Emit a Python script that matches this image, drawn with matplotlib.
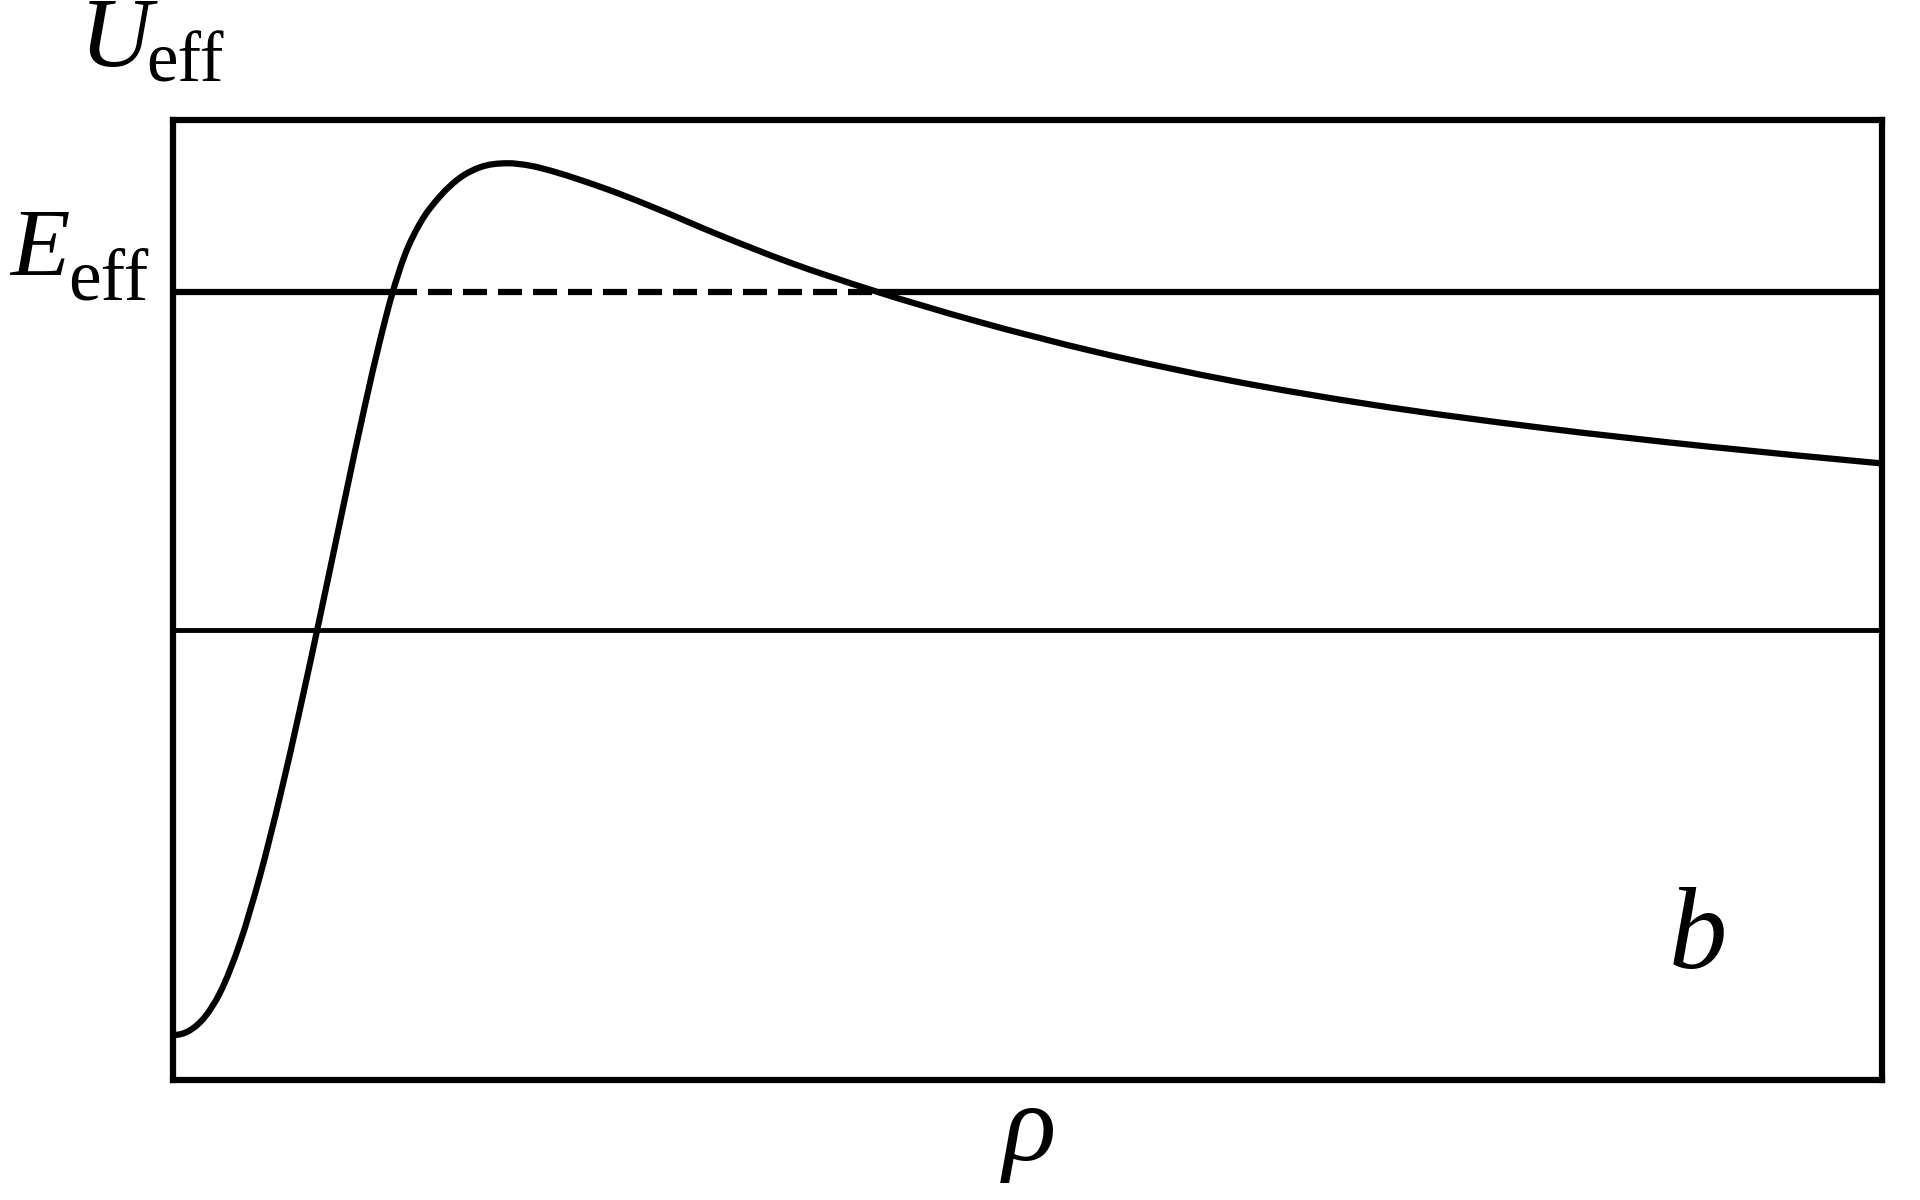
import numpy as np
import matplotlib
matplotlib.use("Agg")
import matplotlib.pyplot as plt
from matplotlib.path import Path
from matplotlib.patches import PathPatch

# ---- data (E_eff normalised to 1, rho axis 0..10) ----
rho = [0.0, 0.099, 0.187, 0.275, 0.392, 0.509, 0.626, 0.743, 0.860, 1.006,
       1.123, 1.211, 1.281, 1.357, 1.445, 1.562, 1.679, 1.796, 1.954, 2.089,
       2.224, 2.381, 2.6, 2.8, 3.2, 3.6, 4.1, 4.7, 5.4, 6.2, 7.0,
       8.0, 9.0, 10.0]
u_eff = [-1.198, -1.184, -1.144, -1.073, -0.925, -0.727, -0.493, -0.234, 0.039, 0.389,
         0.664, 0.856, 0.992, 1.110, 1.203, 1.283, 1.338, 1.369, 1.381, 1.374,
         1.357, 1.332, 1.293, 1.253, 1.168, 1.089, 1.004, 0.914, 0.823, 0.737, 0.668,
         0.599, 0.542, 0.493]
E_eff = 1.0
zero_level = 0.0
x_range = [0.0, 10.0]
y_range = [-1.331, 1.509]

rho_a = np.array(rho)
u_a = np.array(u_eff)
ipk = int(np.argmax(u_a))
# turning points where the curve meets E_eff (rising and falling branches)
rho_in = float(np.interp(E_eff, u_a[:ipk + 1], rho_a[:ipk + 1]))
rho_out = float(np.interp(-E_eff, -u_a[ipk:], rho_a[ipk:]))


def smooth_path(x, y):
    """Cubic Hermite (Bezier) path passing through every read point."""
    h = np.diff(x)
    d = np.diff(y) / h
    m = np.empty_like(y)
    m[-1] = d[-1]
    m[1:-1] = (h[:-1] * d[1:] + h[1:] * d[:-1]) / (h[:-1] + h[1:])
    m[0] = 0.0  # curve leaves the wall horizontally
    verts = [(x[0], y[0])]
    codes = [Path.MOVETO]
    for i in range(len(x) - 1):
        verts += [(x[i] + h[i] / 3, y[i] + m[i] * h[i] / 3),
                  (x[i + 1] - h[i] / 3, y[i + 1] - m[i + 1] * h[i] / 3),
                  (x[i + 1], y[i + 1])]
        codes += [Path.CURVE4] * 3
    return Path(verts, codes)


fig = plt.figure(figsize=(19.2, 12), dpi=100)
ax = fig.add_axes([0.0901, 0.1, 0.8901, 0.8])
ax.set_xlim(*x_range)
ax.set_ylim(*y_range)

lw = 4.5
# zero line
ax.plot(x_range, [zero_level, zero_level], color="black", lw=3.5, solid_capstyle="butt")
# E_eff line: solid outside, dashed in the forbidden region
ax.plot([x_range[0], rho_in], [E_eff, E_eff], color="black", lw=lw, solid_capstyle="butt")
ax.plot([rho_out, x_range[1]], [E_eff, E_eff], color="black", lw=lw, solid_capstyle="butt")
ax.plot([rho_in, rho_out], [E_eff, E_eff], color="black", lw=lw,
        dashes=(17.3 / lw, 7.9 / lw), dash_capstyle="butt")
# potential curve
ax.add_patch(PathPatch(smooth_path(rho_a, u_a), facecolor="none", edgecolor="black",
                       lw=lw, joinstyle="round", capstyle="round"))

ax.set_xticks([])
ax.set_yticks([])
for s in ax.spines.values():
    s.set_linewidth(lw)
    s.set_color("black")

serif = "Liberation Serif"
W, H = 1920.0, 1200.0

def ftext(px, py, s, size, style="normal", ha="left"):
    fig.text(px / W, 1 - py / H, s, fontsize=size, fontfamily=serif,
             style=style, ha=ha, va="baseline", color="black")

# U_eff
ftext(80, 66, "U", 72, "italic")
ftext(146, 82, "eff", 51)
# E_eff
ftext(10, 276, "E", 70, "italic")
ftext(68, 300, "eff", 53)
# b label
ftext(1698, 968, "b", 84, "italic", ha="center")
# rho label
ftext(1030, 1160, "\u03c1", 80, "italic", ha="center")

fig.savefig("out.png", dpi=100, facecolor="white")
